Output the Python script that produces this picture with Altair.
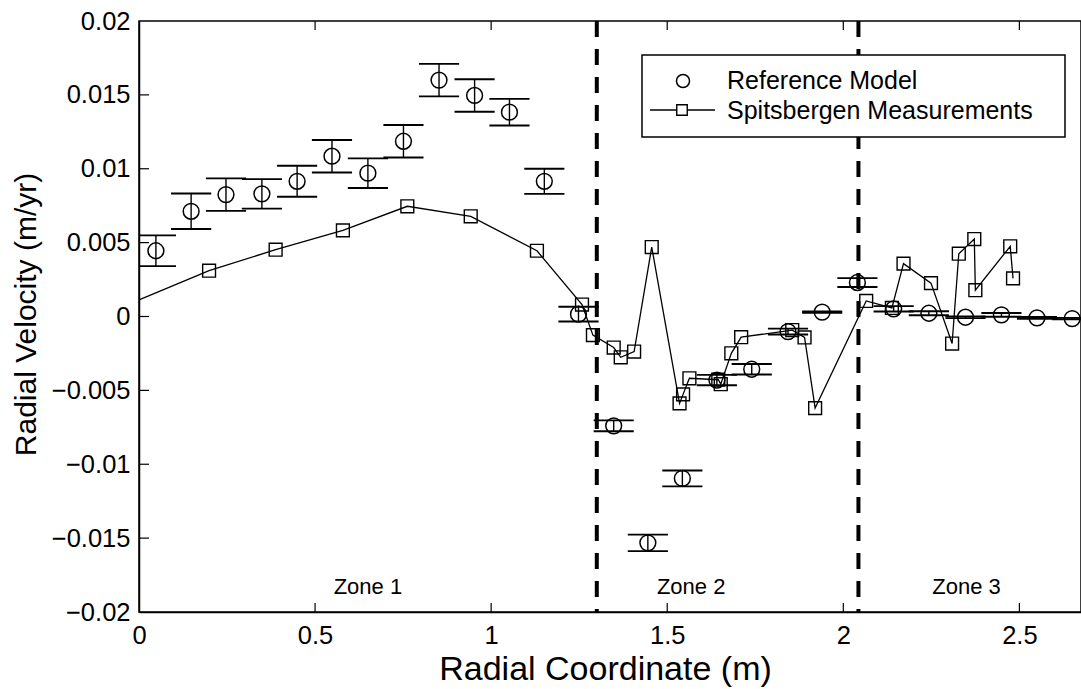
import altair as alt
import pandas as pd

# ---------------- data ----------------
ref_x = [0.048, 0.148, 0.247, 0.349, 0.449, 0.548, 0.650, 0.751, 0.852, 0.953,
         1.052, 1.151, 1.248, 1.348, 1.445, 1.543, 1.641, 1.740, 1.843, 1.940,
         2.040, 2.143, 2.243, 2.347, 2.449, 2.550, 2.650]
ref_y = [0.00445, 0.00712, 0.00825, 0.00830, 0.00915, 0.01085, 0.00970, 0.01186, 0.01600, 0.01496,
         0.01383, 0.00915, 0.00016, -0.00740, -0.01532, -0.01096, -0.00430, -0.00357, -0.00102, 0.00030,
         0.00230, 0.00052, 0.00022, -0.00005, 0.00011, -0.00009, -0.00014]
ref_err = [0.00104, 0.00120, 0.00110, 0.00100, 0.00105, 0.00110, 0.00100, 0.00110, 0.00110, 0.00110,
           0.00090, 0.00085, 0.00050, 0.00037, 0.00056, 0.00054, 0.00035, 0.00036, 0.00020, 0.00005,
           0.00030, 0.00018, 0.00014, 0.00006, 0.00013, 0.00006, 0.00005]
cap_half = 0.057

sp_x = [0.000, 0.199, 0.388, 0.579, 0.762, 0.942, 1.130, 1.258, 1.289, 1.348,
        1.368, 1.406, 1.456, 1.535, 1.545, 1.563, 1.645, 1.652, 1.682, 1.710,
        1.855, 1.890, 1.920, 2.065, 2.138, 2.171, 2.249, 2.309, 2.328, 2.372,
        2.375, 2.474, 2.482]
sp_y = [0.00113, 0.00310, 0.00452, 0.00583, 0.00746, 0.00678, 0.00445, 0.00081, -0.00126, -0.00210,
        -0.00276, -0.00237, 0.00470, -0.00588, -0.00527, -0.00418, -0.00428, -0.00458, -0.00249, -0.00140,
        -0.00092, -0.00142, -0.00620, 0.00105, 0.00058, 0.00358, 0.00226, -0.00183, 0.00425, 0.00524,
        0.00178, 0.00475, 0.00258]
sp_marker = [False] + [True] * (len(sp_x) - 1)

zone_bounds = [1.300, 2.043]
zone_labels = ["Zone 1", "Zone 2", "Zone 3"]
zone_label_x = [0.650, 1.568, 2.350]
zone_label_y = [-0.0188, -0.0188, -0.0188]

x_ticks = [0, 0.5, 1, 1.5, 2, 2.5]
y_ticks = [-0.02, -0.015, -0.01, -0.005, 0, 0.005, 0.01, 0.015, 0.02]

legend_labels = ["Reference Model", "Spitsbergen Measurements"]

# ---------------- tables ----------------
ref = pd.DataFrame({"x": ref_x, "y": ref_y, "err": ref_err})
ref["lo"] = ref["y"] - ref["err"]
ref["hi"] = ref["y"] + ref["err"]
caps = pd.concat([
    pd.DataFrame({"xl": ref["x"] - cap_half, "xr": ref["x"] + cap_half, "yc": ref["lo"]}),
    pd.DataFrame({"xl": ref["x"] - cap_half, "xr": ref["x"] + cap_half, "yc": ref["hi"]}),
])
sp = pd.DataFrame({"x": sp_x, "y": sp_y, "marker": sp_marker, "order": range(len(sp_x))})
sp_pts = sp[sp["marker"]]
bounds = pd.DataFrame({"x": zone_bounds})
zones = pd.DataFrame({"x": zone_label_x, "y": zone_label_y, "t": zone_labels})
xt = pd.DataFrame({"v": [v for v in x_ticks if v != 0]})
yt = pd.DataFrame({"v": [v for v in y_ticks if abs(v) < 0.02]})
one = pd.DataFrame({"k": [0]})

W, H = 942, 591
FONT = "Liberation Sans"
xscale = alt.Scale(domain=[0, 2.675], nice=False, zero=False)
yscale = alt.Scale(domain=[-0.02, 0.02], nice=False, zero=False)

x_axis = alt.Axis(values=x_ticks, format="~g", tickSize=0, labelPadding=11, labelFlush=False,
                  labelFont=FONT, labelFontSize=25.5, labelColor="black",
                  domainColor="black", domainWidth=1.5, grid=False,
                  title="Radial Coordinate (m)", titleFont=FONT, titleFontSize=34,
                  titleFontWeight="normal", titleColor="black",
                  titleX=466, titleY=67, titleAlign="center", titleBaseline="alphabetic")
y_axis = alt.Axis(values=y_ticks, format="~g", tickSize=0, labelPadding=9, labelFlush=False,
                  labelFont=FONT, labelFontSize=25.5, labelColor="black",
                  domainColor="black", domainWidth=1.5, grid=False,
                  title="Radial Velocity (m/yr)", titleFont=FONT, titleFontSize=30,
                  titleFontWeight="normal", titleColor="black", titleAngle=270,
                  titleX=-104, titleY=293, titleAlign="center", titleBaseline="alphabetic")


def X(f):
    return alt.X(f, type="quantitative", scale=xscale, axis=x_axis)


def Y(f):
    return alt.Y(f, type="quantitative", scale=yscale, axis=y_axis)


dashed = alt.Chart(bounds).mark_rule(color="black", strokeWidth=4, strokeDash=[16, 12]).encode(
    x=X("x"), y=alt.value(0), y2=alt.value(H))

line = alt.Chart(sp).mark_line(color="black", strokeWidth=1.3).encode(
    x=X("x"), y=Y("y"), order="order:Q")

squares = alt.Chart(sp_pts).mark_point(shape="square", filled=False, color="black",
                                       size=165, strokeWidth=1.4, opacity=1).encode(
    x=X("x"), y=Y("y"))

ebar = alt.Chart(ref).mark_rule(color="black", strokeWidth=1.4).encode(
    x=X("x"), y=Y("lo"), y2="hi")

cap = alt.Chart(caps).mark_rule(color="black", strokeWidth=1.9, clip=True).encode(
    x=X("xl"), x2="xr", y=Y("yc"))

circles = alt.Chart(ref).mark_point(shape="circle", filled=False, color="black",
                                    size=250, strokeWidth=1.5, opacity=1).encode(
    x=X("x"), y=Y("y"))

ztext = alt.Chart(zones).mark_text(font=FONT, fontSize=22, color="black",
                                   align="center", baseline="alphabetic").encode(
    x=X("x"), y=Y("y"), text="t:N")

xt_bot = alt.Chart(xt).mark_rule(color="black", strokeWidth=1.2).encode(
    x=X("v"), y=alt.value(H), y2=alt.value(H - 9))
xt_top = alt.Chart(xt).mark_rule(color="black", strokeWidth=1.2).encode(
    x=X("v"), y=alt.value(0), y2=alt.value(9))
yt_left = alt.Chart(yt).mark_rule(color="black", strokeWidth=1.2).encode(
    y=Y("v"), x=alt.value(0), x2=alt.value(10))

# ---------------- legend ----------------
lg_box = alt.Chart(one).mark_rect(fill="white", stroke="black", strokeWidth=1.5).encode(
    x=alt.value(503), x2=alt.value(926), y=alt.value(34), y2=alt.value(116))
lg_circle = alt.Chart(one).mark_point(shape="circle", filled=False, color="black",
                                      size=170, strokeWidth=1.5, opacity=1).encode(
    x=alt.value(544), y=alt.value(60))
lg_line = alt.Chart(one).mark_rule(color="black", strokeWidth=1.3).encode(
    x=alt.value(511), x2=alt.value(576), y=alt.value(89))
lg_square = alt.Chart(one).mark_point(shape="square", filled=True, fill="white", stroke="black",
                                      size=110, strokeWidth=1.4, opacity=1).encode(
    x=alt.value(543), y=alt.value(89))
lg_t1 = alt.Chart(one).mark_text(text=legend_labels[0], font=FONT, fontSize=25, color="black",
                                 align="left", baseline="alphabetic").encode(
    x=alt.value(588), y=alt.value(68))
lg_t2 = alt.Chart(one).mark_text(text=legend_labels[1], font=FONT, fontSize=25, color="black",
                                 align="left", baseline="alphabetic").encode(
    x=alt.value(588), y=alt.value(98))

chart = alt.layer(
    dashed, line, squares, ebar, cap, circles, ztext, xt_bot, xt_top, yt_left,
    lg_box, lg_line, lg_square, lg_circle, lg_t1, lg_t2
).properties(
    width=W, height=H,
    padding={"left": 139, "top": 21, "right": 0, "bottom": 77},
    autosize=alt.AutoSizeParams(type="none"),
    background="white",
).configure_view(stroke="black", strokeWidth=1.5)

chart.save("out.html", embed_options={"renderer": "svg", "actions": False})
